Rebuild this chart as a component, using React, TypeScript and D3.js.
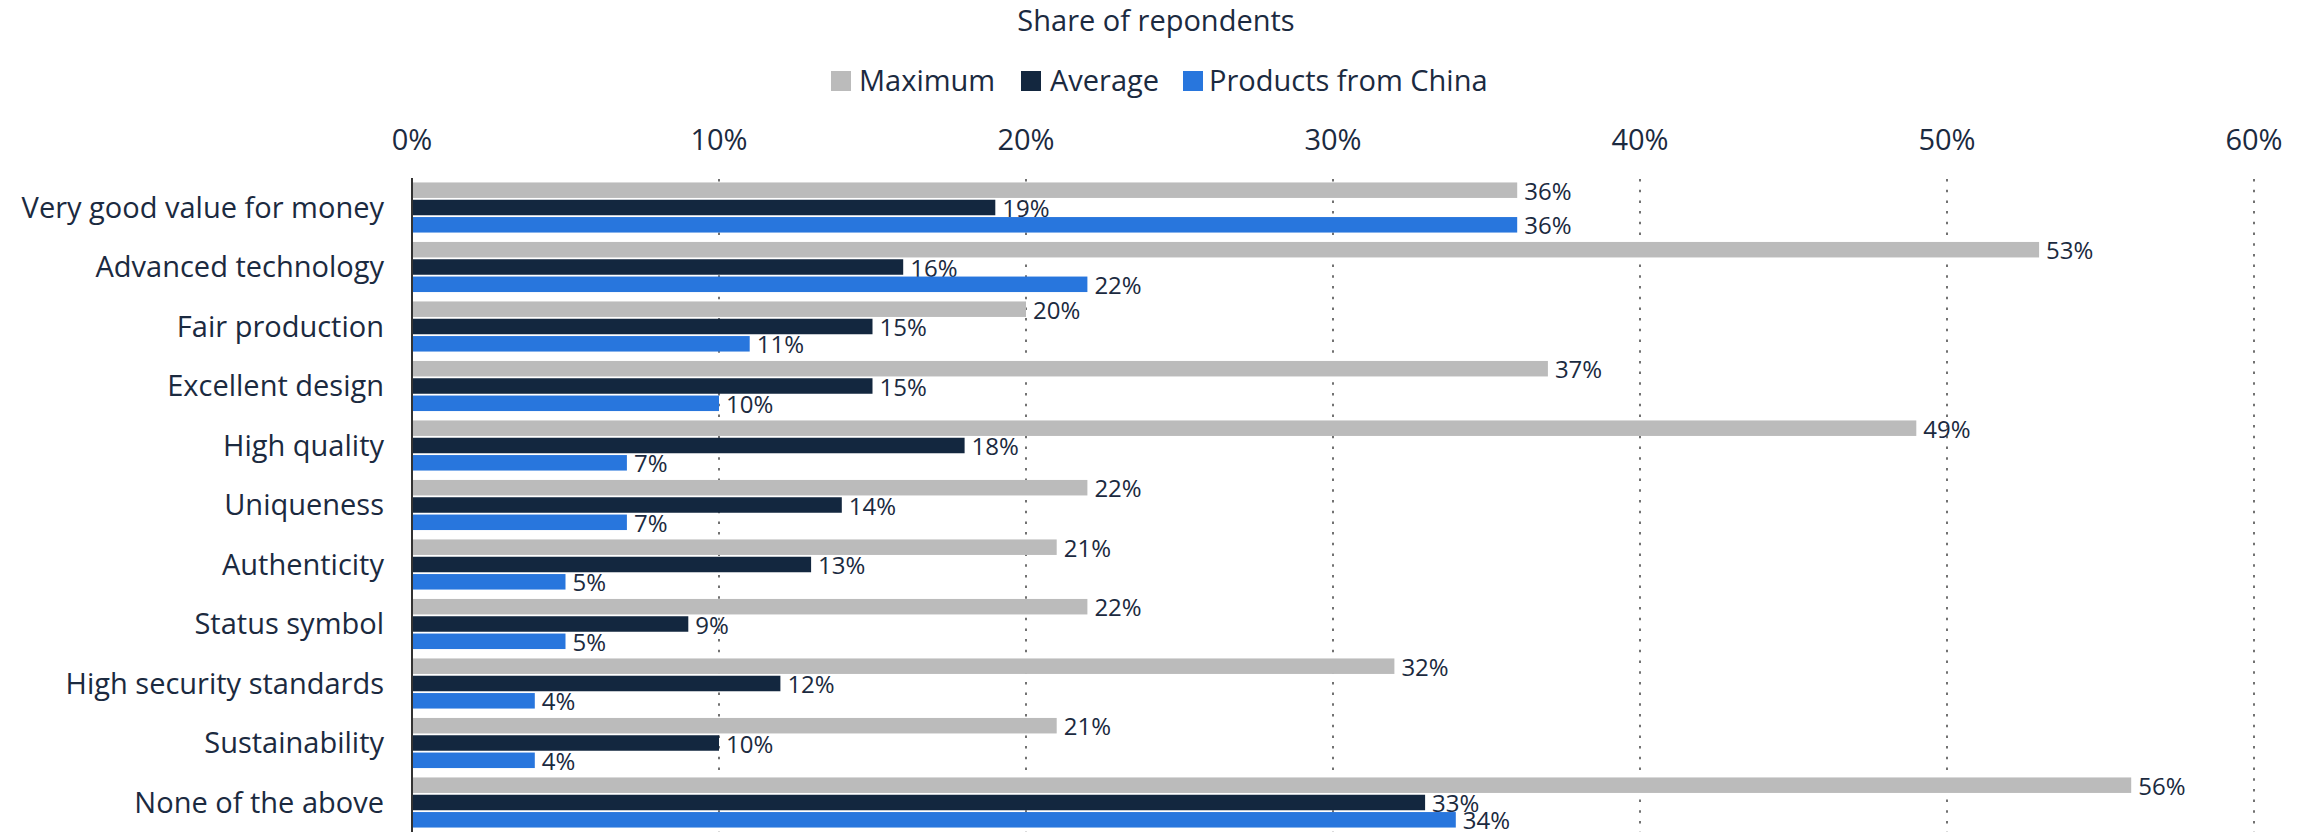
import React from "react";
import * as d3 from "d3";

const categories = [
  "Very good value for money",
  "Advanced technology",
  "Fair production",
  "Excellent design",
  "High quality",
  "Uniqueness",
  "Authenticity",
  "Status symbol",
  "High security standards",
  "Sustainability",
  "None of the above",
];
const seriesNames = ["Maximum", "Average", "Products from China"];
const maximum = [36, 53, 20, 37, 49, 22, 21, 22, 32, 21, 56];
const average = [19, 16, 15, 15, 18, 14, 13, 9, 12, 10, 33];
const china = [36, 22, 11, 10, 7, 7, 5, 5, 4, 4, 34];
const tickValues = [0, 10, 20, 30, 40, 50, 60];
const colors = ["#bbbbbb", "#13273f", "#2876dd"];

const W = 2311;
const H = 832;
const FONT = "'Open Sans', 'Noto Sans', sans-serif";
const TEXT = "#1b2a40";

export default function App() {
  const x = d3.scaleLinear().domain([0, 60]).range([412, 2254]);
  const y = d3.scaleBand().domain(categories).range([178, 832.5]).padding(0);
  const series = [maximum, average, china];
  const barStep = 17.3;
  const barH = 15.5;

  const legendItems = [
    { name: seriesNames[0], sq: 831, tx: 859 },
    { name: seriesNames[1], sq: 1021, tx: 1050 },
    { name: seriesNames[2], sq: 1183, tx: 1209 },
  ];

  return (
    <svg
      width={W}
      height={H}
      style={{ position: "absolute", left: 0, top: 0, background: "#fff" }}
      fontFamily={FONT}
    >
      <text x={1156} y={31} textAnchor="middle" fontSize={29} fill={TEXT}>
        Share of repondents
      </text>
      {legendItems.map((l, i) => (
        <g key={l.name}>
          <rect x={l.sq} y={71} width={20} height={20} fill={colors[i]} />
          <text x={l.tx} y={91} fontSize={29} fill={TEXT}>
            {l.name}
          </text>
        </g>
      ))}
      {tickValues.map((t) => (
        <text key={t} x={x(t)} y={150} textAnchor="middle" fontSize={29} fill={TEXT}>
          {t}%
        </text>
      ))}
      {tickValues.slice(1).map((t) => (
        <line
          key={"g" + t}
          x1={x(t)}
          x2={x(t)}
          y1={179}
          y2={H}
          stroke="#444"
          strokeWidth={1.5}
          strokeDasharray="2.5,8.2"
        />
      ))}
      {categories.map((c, ci) => {
        const cy = (y(c) as number) + y.bandwidth() / 2;
        return (
          <g key={c}>
            <text x={384} y={cy} dy="0.35em" textAnchor="end" fontSize={29} fill={TEXT}>
              {c}
            </text>
            {series.map((s, si) => {
              const top = cy - 8 + (si - 1) * barStep;
              const v = s[ci];
              return (
                <g key={si}>
                  <rect x={x(0)} y={top} width={x(v) - x(0)} height={barH} fill={colors[si]} />
                  <text
                    x={x(v) + 7}
                    y={top + barH / 2 + 1.2}
                    dy="0.35em"
                    fontSize={24}
                    fill={TEXT}
                  >
                    {v}%
                  </text>
                </g>
              );
            })}
          </g>
        );
      })}
      <line x1={x(0)} x2={x(0)} y1={178} y2={H} stroke="#333" strokeWidth={2} />
    </svg>
  );
}
